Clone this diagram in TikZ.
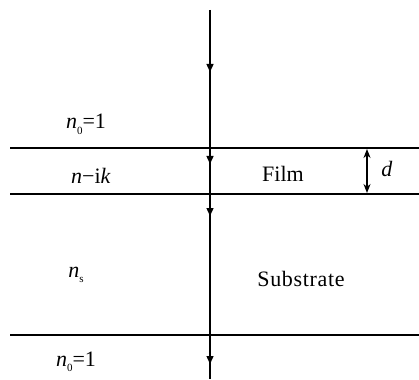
\documentclass[tikz,border=0pt]{standalone}
\usepackage{fontspec}
\setmainfont{Liberation Serif}
\usetikzlibrary{arrows.meta}
\newcommand{\lbsub}[1]{\raisebox{-0.25em}{\fontsize{11}{12}\selectfont #1}}
\tikzset{
  layerline/.style={line width=1.5pt},
  ray/.style={line width=1.4pt},
  raytip/.style={line width=1.4pt,-{Triangle[length=8pt,width=7pt]}},
  lbl/.style={font=\fontsize{22}{26}\selectfont, inner sep=0pt, anchor=base},
  thick2/.style={line width=1.4pt,{Stealth[length=9pt,width=7pt]}-{Stealth[length=9pt,width=7pt]}}
}
\begin{document}
\begin{tikzpicture}[x=1pt,y=-1pt]
\useasboundingbox (0,0) rectangle (419,379);
% layer boundaries
\coordinate (l1a) at (10,148); \coordinate (l1b) at (419,148);
\coordinate (l2a) at (10,194); \coordinate (l2b) at (419,194);
\coordinate (l3a) at (10,335); \coordinate (l3b) at (419,335);
\draw[layerline] (l1a) -- (l1b);
\draw[layerline] (l2a) -- (l2b);
\draw[layerline] (l3a) -- (l3b);
% ray
\coordinate (rtop) at (210,10); \coordinate (rbot) at (210,379);
\draw[ray] (rtop) -- (rbot);
\coordinate (a1s) at (210,60); \coordinate (a1e) at (210,72);
\coordinate (a2s) at (210,152); \coordinate (a2e) at (210,164);
\coordinate (a3s) at (210,204); \coordinate (a3e) at (210,216);
\coordinate (a4s) at (210,352); \coordinate (a4e) at (210,364);
\draw[raytip] (a1s) -- (a1e);
\draw[raytip] (a2s) -- (a2e);
\draw[raytip] (a3s) -- (a3e);
\draw[raytip] (a4s) -- (a4e);
% thickness
\coordinate (dt) at (367,149); \coordinate (db) at (367,193);
\draw[thick2] (dt) -- (db);
% labels
\node[lbl] (n0top) at (86,129) {\textit{n}\lbsub{0}=1};
\node[lbl] (nik) at (91,183) {\textit{n}−i\textit{k}};
\node[lbl] (film) at (283,181) {Film};
\node[lbl] (dl) at (387,176) {\textit{d}};
\node[lbl] (ns) at (76,277) {\textit{n}\lbsub{s}};
\node[lbl] (sub) at (301,286) {\addfontfeature{LetterSpace=3}Substrate};
\node[lbl] (n0bot) at (76,366) {\textit{n}\lbsub{0}=1};
\end{tikzpicture}
\end{document}
